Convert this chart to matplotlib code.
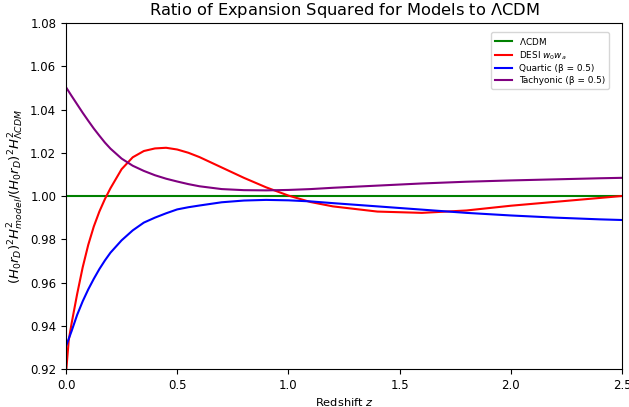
import matplotlib
matplotlib.use('Agg')
from matplotlib import pyplot as plt

# redshift samples, values
z = [0.0, 0.0125, 0.025, 0.05, 0.075, 0.1, 0.125, 0.15, 0.175, 0.2, 0.25, 0.3,
     0.35, 0.4, 0.45, 0.5, 0.55, 0.6, 0.7, 0.8, 0.9, 1.0, 1.1, 1.2, 1.4, 1.6,
     1.8, 2.0, 2.2, 2.4, 2.5]

lcdm = [1.0] * len(z)

desi = [0.918, 0.9335, 0.941, 0.9546, 0.9670, 0.9774, 0.9859, 0.9928, 0.9986,
        1.0036, 1.0124, 1.0179, 1.0208, 1.0220, 1.0223, 1.0215, 1.0200, 1.0180,
        1.0132, 1.0084, 1.0040, 1.0002, 0.9972, 0.9952, 0.9928, 0.9922, 0.9933,
        0.9955, 0.9973, 0.9991, 1.0000]

quartic = [0.9305, 0.9340, 0.9375, 0.9450, 0.9513, 0.9568, 0.9617, 0.9662,
           0.9702, 0.9738, 0.9795, 0.9841, 0.9877, 0.9900, 0.9920, 0.9938,
           0.9948, 0.9956, 0.9971, 0.9979, 0.9982, 0.9980, 0.9975, 0.9967,
           0.9952, 0.9937, 0.9922, 0.9910, 0.9900, 0.9892, 0.9889]

tachyonic = [1.0503, 1.0483, 1.0463, 1.0424, 1.0385, 1.0348, 1.0312, 1.0279,
             1.0247, 1.0219, 1.0173, 1.0140, 1.0116, 1.0096, 1.0080, 1.0067,
             1.0055, 1.0045, 1.0032, 1.0027, 1.0026, 1.0028, 1.0032, 1.0038,
             1.0048, 1.0058, 1.0066, 1.0072, 1.0077, 1.0082, 1.0084]

fig = plt.figure(figsize=(6.29, 4.07), dpi=100)
ax = fig.add_axes([66/629, 1 - 369/407, 556/629, 346/407])

ax.plot(z, lcdm, color='green', label=r'$\Lambda$CDM')
ax.plot(z, desi, color='red', label=r'DESI $w_0w_a$')
ax.plot(z, quartic, color='blue', label='Quartic (β = 0.5)')
ax.plot(z, tachyonic, color='purple', label='Tachyonic (β = 0.5)')

ax.set_xlim(0, 2.5)
ax.set_ylim(0.92, 1.08)
ax.tick_params(labelsize=8.5)
ax.set_xlabel('Redshift $z$', fontsize=8.2, labelpad=3)
ax.set_ylabel(r'$(H_0 r_D)^2 H^2_{model}/(H_0 r_D)^2 H^2_{\Lambda CDM}$', fontsize=9.5,
              labelpad=3)
ax.set_title(r'Ratio of Expansion Squared for Models to $\Lambda$CDM', fontsize=11.7)
ax.legend(fontsize=6.4, labelspacing=0.3, loc='upper right',
          bbox_to_anchor=(0.977, 0.974), borderaxespad=0)

fig.savefig('out.png', dpi=100)
